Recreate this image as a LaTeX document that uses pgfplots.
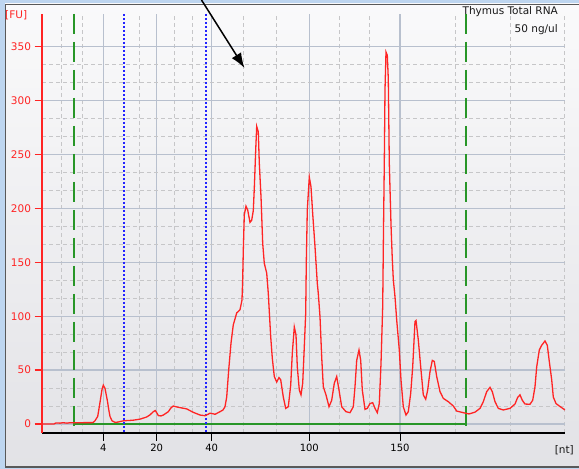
\documentclass[border=0pt]{standalone}
\usepackage{pgfplots}
\pgfplotsset{compat=1.18}
\usepackage{fontspec}
\setmainfont{DejaVu Sans}
\usetikzlibrary{arrows.meta}

\definecolor{fured}{RGB}{255,36,36}
\definecolor{gridmaj}{RGB}{184,192,206}
\definecolor{gridmin}{RGB}{198,198,200}
\definecolor{mkgreen}{RGB}{40,150,40}
\definecolor{mkblue}{RGB}{35,35,255}
\definecolor{frameblue}{RGB}{190,214,240}
\definecolor{bgtop}{RGB}{250,250,251}
\definecolor{bgbot}{RGB}{226,226,230}

\begin{document}
\begin{tikzpicture}[x=1pt,y=1pt]
% panel background and frame
\shade[top color=bgtop,bottom color=bgbot] (0,0) rectangle (579,469);
\fill[frameblue] (0,0) rectangle (4.5,469);
\fill[frameblue] (0,465.5) rectangle (579,469);
\fill[frameblue] (0,0) rectangle (579,1.2);
\draw[black!65,line width=1.2pt] (579,2) -- (5.4,2) -- (5.4,464.6) -- (579,464.6);

\begin{axis}[
  at={(42pt,36pt)}, anchor=south west,
  scale only axis, width=523pt, height=419pt,
  xmin=42, xmax=565, ymin=-8.35, ymax=380.3,
  axis x line*=bottom, axis y line*=left,
  x axis line style={black,line width=1.2pt,-},
  y axis line style={fured,line width=1.2pt,-},
  xtick={103.3,156.7,211.7,309.3,400},
  xticklabels={4,20,40,100,150},
  minor xtick={61.7,82.3,139.3,174.5,192.7,243.8,276,339.5,369.8,455.3,510,564},
  ytick={0,50,...,350},
  minor y tick num=2,
  tick align=outside,
  major tick length=7.5pt, minor tick length=0pt,
  x tick style={black,line width=1pt},
  y tick style={fured,line width=1.2pt},
  /pgf/number format/assume math mode=true,
  yticklabel style={font=\fontsize{10.5}{12}\selectfont,text=fured},
  xticklabel style={font=\fontsize{10}{12}\selectfont,text=black},
  grid=both,
  major grid style={gridmaj,line width=1.2pt},
  minor grid style={gridmin,line width=1pt,dash pattern=on 4pt off 3pt},
]
% zero line
\addplot[mkgreen,line width=1.6pt] coordinates {(74,0)(466,0)};
% region markers
\addplot[mkgreen,line width=1.4pt,dash pattern=on 20pt off 8pt] coordinates {(74,380.3)(74,-8.35)};
\addplot[mkgreen,line width=1.4pt,dash pattern=on 20pt off 8pt] coordinates {(466,380.3)(466,-8.35)};
\addplot[mkblue,line width=1.4pt,dash pattern=on 2pt off 2pt] coordinates {(124,380.3)(124,-8.35)};
\addplot[mkblue,line width=1.4pt,dash pattern=on 2pt off 2pt] coordinates {(206,380.3)(206,-8.35)};
% electropherogram trace
\addplot[fured,line width=1.3pt] coordinates {
(42,0)(54,0)(56,1)(60,0.8)(63,1.2)(67,0.8)(70,1.2)(74,1.2)(93,1.3)(95,3)
(97.7,7)(100,20)(102,32)(103.3,36)(105,33)(107.3,22)(109,12)(110,7)(112,3)
(115,1.5)(118,1.8)(121,2.5)(124,3)(133,3.5)(140,4.5)(146.7,6.5)(150,8.5)
(153.3,11.4)(155.3,12.5)(157,10)(158.3,7.8)(161,7.5)(163.3,8.3)(168.3,11.4)
(171,15)(173.3,16.7)(176,16)(178.3,15.5)(186.7,14)(193.3,10.8)(200,8.3)
(205,7.7)(208,9)(210,10)(213,9.5)(215,9)(220,11.4)(223,13)(225,16)
(226.7,25)(228.7,50)(231,75)(233.3,92)(236.7,103)(240,106)(242,115)
(242.7,135)(243.3,161)(244.3,194)(246,202)(247.7,198.5)(250,187)(251.7,189)
(253.3,198)(254.3,218.6)(255.7,254)(256.7,276)(258.3,271)(259.3,242)
(261,211)(262.7,167.6)(264.3,149)(266.7,140)(268.3,121)(270.7,81)(272.3,61)
(274.3,44)(276.7,39)(279,43)(280.7,41)(283.3,25)(285.7,14.5)(288.3,16)
(290.7,36)(292.3,65.6)(294.3,90)(296,82.6)(297.3,53)(299.3,31.5)(301,27)
(302.7,37.8)(304.3,71.7)(305.7,102.7)(306.3,150)(307.3,198.5)(309.3,229)
(311,220)(312.7,195)(315,164.5)(317.3,130.5)(318.3,121)(320,99.5)(321.7,62)
(323.3,34.6)(326,27)(329,16)(331.7,22)(334.3,37.8)(336.7,44)(339,31.5)
(341.7,16)(346,11.4)(350,10.5)(353.3,16)(355,34.6)(356.7,59)(359,68.6)
(360.7,59)(362.3,31.5)(365,13.6)(367.3,14.5)(370,19)(372.7,19.8)(375,14.5)
(377.3,10.5)(379.3,19)(381,56)(382.7,109)(383.5,180)(384.3,242)(385,310)
(386,345)(387.3,342)(388.3,320)(389.3,242)(391,185)(392.2,155)(393.3,134)
(395,118)(396.7,96.5)(399.3,68.6)(401,40.8)(403.3,16)(406,8.3)(408.3,11.4)
(410.7,28.5)(412.7,53)(415,95)(416,96)(418.3,78)(420.7,53)(423.3,27)
(425.7,23)(427.7,31.5)(430,48.5)(432.3,59)(434.3,58)(436.7,44)(440,30)
(443.3,23.8)(448.3,20.7)(453.3,16.7)(456.7,12)(463.3,10.5)(469,9.3)(475,11)
(480,14.5)(483.3,20.7)(486.7,30)(490,34)(492.3,30)(495,20.7)(498.3,14.5)
(503.3,13)(510,14.5)(515,18.5)(517.7,24.7)(520,27)(522.3,22)(525,18.5)
(530,18.3)(532.7,22)(535,34.6)(536.7,53)(539.3,68.6)(541.7,73)(545,77)
(547.3,73)(549.3,58)(551.7,41)(553.3,25)(556,19)(559.3,16.7)(562.7,14.5)
(565,13)};
\end{axis}

% annotations
\node[anchor=base west,inner sep=0pt,text=fured,font=\fontsize{10.5}{12}\selectfont] at (5,450.5) {[FU]};
\node[anchor=base east,inner sep=0pt,text=black!90,font=\fontsize{10.5}{12}\selectfont] at (558,454.3) {Thymus Total RNA};
\node[anchor=base east,inner sep=0pt,text=black!90,font=\fontsize{10.5}{12}\selectfont] at (558,436.3) {50 ng/ul};
\node[anchor=base east,inner sep=0pt,text=black!90,font=\fontsize{10.5}{12}\selectfont] at (574,15.5) {[nt]};
\draw[black,line width=1.5pt,-{Latex[length=15pt,width=11pt]}] (201.5,469) -- (244.5,401);
\pgfresetboundingbox
\useasboundingbox (0,0) rectangle (579,469);
\end{tikzpicture}
\end{document}
